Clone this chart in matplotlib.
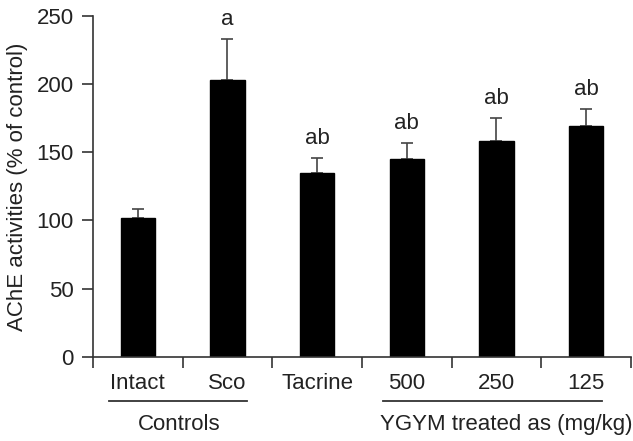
import matplotlib
matplotlib.use("Agg")
import matplotlib.pyplot as plt
import matplotlib.transforms as mtransforms

plt.rcParams['font.family'] = ['Liberation Sans', 'DejaVu Sans']

# data
groups = ["Intact", "Sco", "Tacrine", "500", "250", "125"]
ache = [102, 203, 135, 145, 158, 169]
ache_err = [6.5, 30, 11, 12, 17.5, 13]
marks = ["", "a", "ab", "ab", "ab", "ab"]
yticks = [0, 50, 100, 150, 200, 250]

txt = "#222222"
fs = 16

fig = plt.figure(figsize=(6.33, 4.41), dpi=100)
ax = fig.add_axes([0.1469, 0.1912, 0.8499, 0.7725])

x = list(range(len(groups)))
ax.bar(x, ache, width=0.38, color="black", edgecolor="black", zorder=2)
ax.errorbar(x, ache, yerr=[[0] * len(ache), ache_err], fmt="none",
            ecolor="#444444", elinewidth=1.2, capsize=4.5, capthick=1.2, zorder=1)

for xi, top, e, m in zip(x, ache, ache_err, marks):
    if m:
        ax.annotate(m, (xi, top + e), xytext=(0, 10), textcoords="offset points",
                    ha="center", va="baseline", fontsize=fs, color=txt,
                    annotation_clip=False)

ax.set_xlim(-0.5, 5.5)
ax.set_ylim(0, 250)
ax.set_yticks(yticks)

# boundary ticks without labels, labels under the bars
ax.set_xticks([i - 0.5 for i in range(len(groups) + 1)])
ax.set_xticklabels([])
ax.set_xticks(x, minor=True)
ax.set_xticklabels(groups, minor=True)
ax.tick_params(axis="x", which="minor", length=0, pad=12, labelsize=fs, labelcolor=txt)
ax.tick_params(axis="x", which="major", direction="out", length=8, width=1.2, color="#333333")
ax.tick_params(axis="y", direction="out", length=8, width=1.2, color="#333333",
               pad=6, labelsize=fs, labelcolor=txt)

for s in ["top", "right"]:
    ax.spines[s].set_visible(False)
for s in ["left", "bottom"]:
    ax.spines[s].set_color("#333333")
    ax.spines[s].set_linewidth(1.2)

ax.set_ylabel("AChE activities (% of control)", fontsize=fs, color=txt, labelpad=6)

# group brackets under the tick labels
trans = mtransforms.blended_transform_factory(ax.transData, ax.transAxes)
ax.plot([-0.32, 1.22], [-0.1315, -0.1315], color="#333333", lw=1.3,
        transform=trans, clip_on=False)
ax.plot([2.73, 5.18], [-0.1315, -0.1315], color="#333333", lw=1.3,
        transform=trans, clip_on=False)
ax.text(0.46, -0.215, "Controls", transform=trans, ha="center", va="baseline",
        fontsize=fs, color=txt)
ax.text(4.11, -0.215, "YGYM treated as (mg/kg)", transform=trans, ha="center",
        va="baseline", fontsize=fs, color=txt)

fig.savefig("out.png", dpi=100)
